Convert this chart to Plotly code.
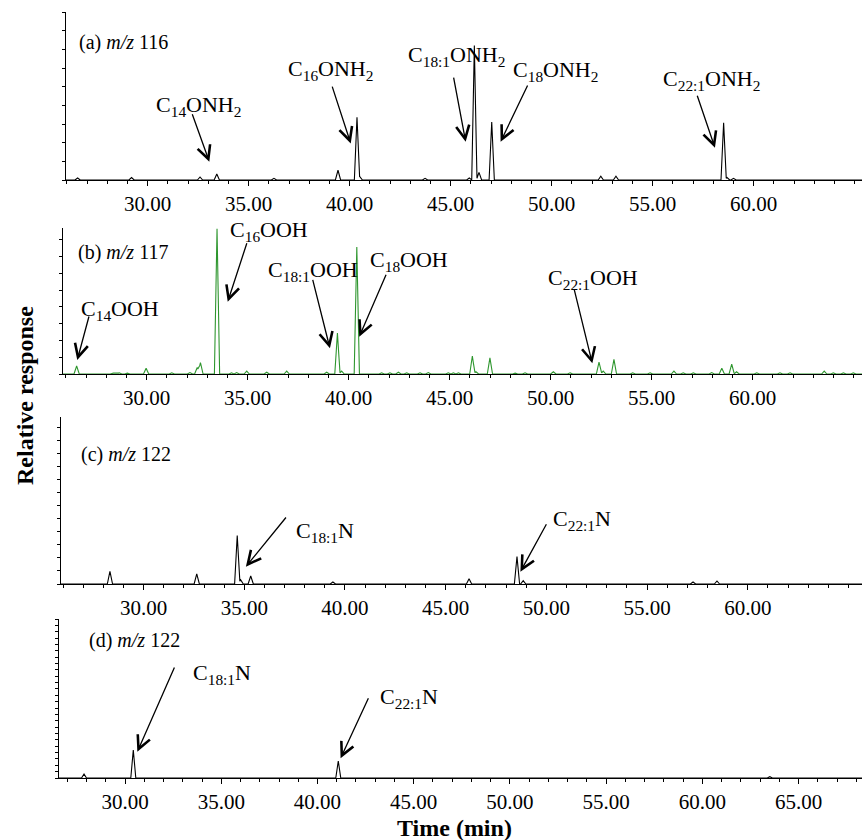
import numpy as np
import plotly.graph_objects as go

# ---------------- data (retention time in min, relative response 0..1 of panel height) ----------------
# (a) m/z 116
a_time = [26.53, 29.2, 32.59, 33.42, 36.25, 39.42, 40.36, 40.5, 43.73, 45.92, 46.17, 46.4, 47.03,
          52.43, 53.18, 58.51, 58.68, 59.0]
a_height = [0.012, 0.015, 0.018, 0.036, 0.01, 0.058, 0.373, 0.02, 0.01, 0.012, 0.80, 0.045, 0.345,
            0.022, 0.022, 0.34, 0.015, 0.01]

# (b) m/z 117
b_time = [26.53, 28.32, 28.48, 28.64, 29.04, 29.97, 31.24, 32.14, 32.5, 32.66, 33.48, 34.2, 34.45,
          34.95, 35.94, 36.93, 38.91, 39.44, 39.65, 40.4, 41.63, 42.04, 42.46, 42.87, 43.53, 43.94,
          44.93, 45.18, 45.43, 46.12, 46.3, 46.99, 48.24, 48.73, 50.13, 50.96, 52.39, 52.6, 53.13,
          54.06, 54.92, 56.1, 56.56, 57.06, 57.97, 58.47, 58.96, 59.2, 60.2, 61.35, 61.85, 63.54,
          63.99, 64.49, 64.98]
b_height = [0.055, 0.008, 0.008, 0.008, 0.006, 0.04, 0.008, 0.01, 0.045, 0.078, 0.995, 0.008, 0.01,
            0.02, 0.012, 0.02, 0.012, 0.28, 0.02, 0.87, 0.008, 0.008, 0.012, 0.008, 0.008, 0.01,
            0.008, 0.008, 0.008, 0.123, 0.015, 0.11, 0.006, 0.008, 0.015, 0.008, 0.082, 0.02, 0.10,
            0.008, 0.008, 0.02, 0.008, 0.008, 0.01, 0.04, 0.068, 0.015, 0.008, 0.008, 0.008, 0.02,
            0.008, 0.008, 0.008]

# (c) m/z 122
c_time = [28.33, 32.64, 34.65, 34.82, 35.32, 39.4, 46.16, 48.54, 48.85, 57.28, 58.47]
c_height = [0.076, 0.06, 0.29, 0.025, 0.048, 0.012, 0.032, 0.164, 0.02, 0.012, 0.018]

# (d) m/z 122
d_time = [27.87, 30.43, 41.08, 63.5]
d_height = [0.025, 0.176, 0.107, 0.008]

panel_labels = ["(a) <i>m/z</i> 116", "(b) <i>m/z</i> 117", "(c) <i>m/z</i> 122", "(d) <i>m/z</i> 122"]
x_ticks_abc = [30, 35, 40, 45, 50, 55, 60]
x_ticks_d = [30, 35, 40, 45, 50, 55, 60, 65]

# compound labels: (panel, text, text x, text y, arrow tail x, tail y, head x, head y)
compound_labels = [
    (0, "C<sub>14</sub>ONH<sub>2</sub>", 32.51, 0.44, 32.18, 0.40, 33.05, 0.109),
    (0, "C<sub>16</sub>ONH<sub>2</sub>", 39.03, 0.655, 39.11, 0.565, 40.05, 0.218),
    (0, "C<sub>18:1</sub>ONH<sub>2</sub>", 45.27, 0.738, 45.13, 0.619, 45.74, 0.228),
    (0, "C<sub>18</sub>ONH<sub>2</sub>", 50.17, 0.649, 48.84, 0.571, 47.47, 0.228),
    (0, "C<sub>22:1</sub>ONH<sub>2</sub>", 57.89, 0.595, 57.18, 0.51, 58.08, 0.192),
    (1, "C<sub>14</sub>OOH", 28.68, 0.438, 27.16, 0.404, 26.56, 0.096),
    (1, "C<sub>16</sub>OOH", 36.05, 0.979, 34.98, 0.906, 34.01, 0.495),
    (1, "C<sub>18:1</sub>OOH", 38.23, 0.705, 38.2, 0.655, 39.07, 0.176),
    (1, "C<sub>18</sub>OOH", 43.0, 0.774, 41.88, 0.69, 40.52, 0.255),
    (1, "C<sub>22:1</sub>OOH", 52.07, 0.651, 51.15, 0.587, 52.06, 0.073),
    (2, "C<sub>18:1</sub>N", 39.01, 0.311, 37.13, 0.407, 35.08, 0.104),
    (2, "C<sub>22:1</sub>N", 51.77, 0.383, 50.04, 0.367, 48.71, 0.074),
    (3, "C<sub>18:1</sub>N", 35.04, 0.654, 32.6, 0.704, 30.64, 0.165),
    (3, "C<sub>22:1</sub>N", 44.74, 0.503, 42.68, 0.511, 41.2, 0.124),
]

# ---------------- layout geometry ----------------
W, H = 863, 840
panels = [
    dict(times=a_time, heights=a_height, color="black", xr=[25.94, 65.36], xl=65.7, yt=12, yb=180,
         ydt=0.111, lab_x=26.5, lab_y=0.821, ticks=x_ticks_abc),
    dict(times=b_time, heights=b_height, color="#2e962e", xr=[25.84, 65.41], xl=62.7, yt=228, yb=374,
         ydt=0.115, lab_x=26.5, lab_y=0.831, ticks=x_ticks_abc),
    dict(times=c_time, heights=c_height, color="black", xr=[25.9, 65.67], xl=61, yt=417, yb=584,
         ydt=0.078, lab_x=26.79, lab_y=0.778, ticks=x_ticks_abc),
    dict(times=d_time, heights=d_height, color="black", xr=[26.57, 68.29], xl=59, yt=619, yb=778,
         ydt=0.04, lab_x=28.03, lab_y=0.864, ticks=x_ticks_d),
]

PEAK_HW = 0.13
FONT = "Liberation Serif, Times New Roman, serif"


def chromatogram(times, heights, x0, x1, hw=PEAK_HW):
    t = np.asarray(times, dtype=float)
    h = np.asarray(heights, dtype=float)
    xs = np.unique(np.concatenate([[x0, x1], t - hw, t, t + hw]))
    ys = np.max(np.clip(h[None, :] * (1 - np.abs(xs[:, None] - t[None, :]) / hw), 0, None), axis=1)
    return xs, ys


fig = go.Figure()
layout = dict(
    width=W, height=H, margin=dict(l=0, r=0, t=0, b=0),
    paper_bgcolor="white", plot_bgcolor="white", showlegend=False,
    font=dict(family=FONT, size=21, color="black"),
)
annotations = []

for i, p in enumerate(panels):
    n = i + 1
    xa = "x" if n == 1 else f"x{n}"
    ya = "y" if n == 1 else f"y{n}"
    xs, ys = chromatogram(p["times"], p["heights"], p["xr"][0], p["xr"][1])
    fig.add_trace(go.Scatter(x=xs, y=ys, mode="lines", xaxis=xa, yaxis=ya,
                             line=dict(color=p["color"], width=1.1), hoverinfo="skip"))
    layout["xaxis" if n == 1 else f"xaxis{n}"] = dict(
        domain=[p["xl"] / W, 862 / W], range=p["xr"], anchor=ya,
        showline=True, linecolor="black", linewidth=1, showgrid=False, zeroline=False,
        tickmode="array", tickvals=p["ticks"], ticktext=[f"{v:.2f}" for v in p["ticks"]],
        ticks="outside", ticklen=5, tickcolor="black", tickwidth=1,
        tickfont=dict(family=FONT, size=21, color="black"),
        minor=dict(tickmode="linear", tick0=0, dtick=1, ticks="outside", ticklen=3,
                   tickcolor="black", showgrid=False),
    )
    layout["yaxis" if n == 1 else f"yaxis{n}"] = dict(
        domain=[1 - p["yb"] / H, 1 - p["yt"] / H], range=[0, 1], anchor=xa,
        showline=True, linecolor="black", linewidth=1, showgrid=False, zeroline=False,
        showticklabels=False, tickmode="linear", tick0=0, dtick=p["ydt"],
        ticks="outside", ticklen=3, tickcolor="black", tickwidth=1,
    )
    annotations.append(dict(xref=xa, yref=ya, x=p["lab_x"], y=p["lab_y"], text=panel_labels[i],
                            showarrow=False, xanchor="left", yanchor="middle",
                            font=dict(family=FONT, size=20, color="black")))

for (pi, txt, tx, ty, ax, ay, hx, hy) in compound_labels:
    n = pi + 1
    xa = "x" if n == 1 else f"x{n}"
    ya = "y" if n == 1 else f"y{n}"
    annotations.append(dict(xref=xa, yref=ya, x=tx, y=ty, text=txt, showarrow=False,
                            xanchor="center", yanchor="middle",
                            font=dict(family=FONT, size=22, color="black")))
    annotations.append(dict(xref=xa, yref=ya, x=hx, y=hy, axref=xa, ayref=ya, ax=ax, ay=ay,
                            text="", showarrow=True, arrowhead=5, arrowsize=2.0, arrowwidth=1.3,
                            arrowcolor="black", standoff=0, startstandoff=0))

annotations.append(dict(xref="paper", yref="paper", x=25 / W, y=1 - 396 / H,
                        text="<b>Relative response</b>", textangle=-90, showarrow=False,
                        xanchor="center", yanchor="middle",
                        font=dict(family=FONT, size=24, color="black")))
annotations.append(dict(xref="paper", yref="paper", x=454 / W, y=1 - 828 / H,
                        text="<b>Time (min)</b>", showarrow=False,
                        xanchor="center", yanchor="middle",
                        font=dict(family=FONT, size=24, color="black")))

layout["annotations"] = annotations
fig.update_layout(**layout)
fig.write_html("out.html", config={"displayModeBar": False},
               post_script="document.body.style.margin='0';document.body.style.padding='0';")
